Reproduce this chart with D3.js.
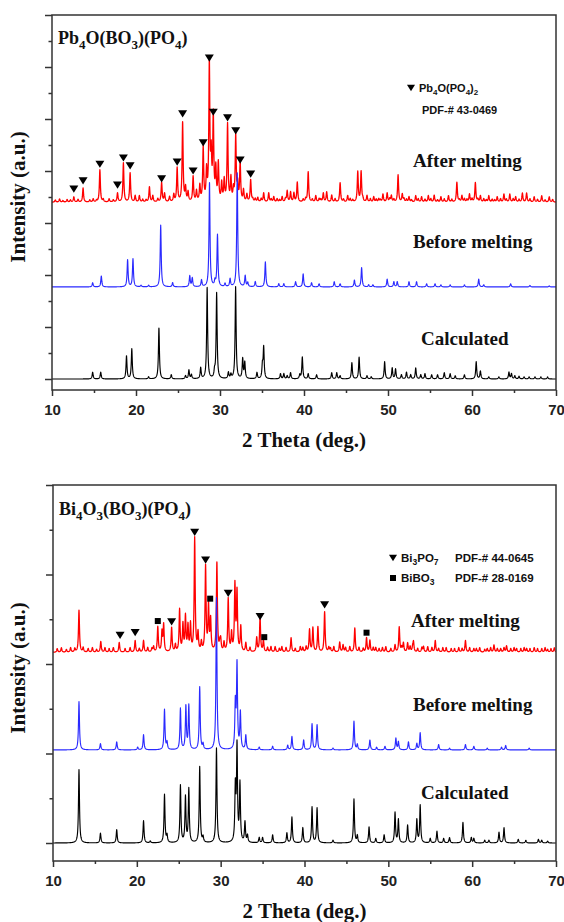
<!DOCTYPE html>
<html><head><meta charset="utf-8">
<script src="https://cdn.jsdelivr.net/npm/d3@7"></script>
<style>body{margin:0;background:#fff}</style>
</head><body>
<svg id="c" width="564" height="922"></svg>
<script>
// ---------------- data ----------------
const xTicks = [10, 20, 30, 40, 50, 60, 70];
const xMinorTicks = [15, 25, 35, 45, 55, 65];
const xLabel = "2 Theta (deg.)";
const yLabel = "Intensity (a.u.)";
const seriesNames = ["After melting", "Before melting", "Calculated"];
const seriesColors = ["#ff0000", "#2a2aff", "#000000"];

// Panel A: Pb4O(BO3)(PO4)  — peaks [2θ, intensity]
const yTicksA = [0, 100, 200, 300, 400, 500, 600, 700];
const yMinorA = [50, 150, 250, 350, 450, 550, 650];
const offsetsA = [340, 177, 0];
const afterA = [[12.6,10],[13.7,27],[15.7,62],[17.8,17],[18.5,75],[19.3,56],[19.9,12],[20.4,12],[21.6,29],[22.0,12],[23.05,37],[23.4,16],[24.0,10],[24.5,14],[24.9,65],[25.55,152],[25.9,26],[26.2,18],[26.8,48],[27.2,20],[27.6,30],[28.0,102],[28.4,56],[28.73,263],[28.95,80],[29.2,162],[29.5,60],[29.8,72],[30.2,34],[30.5,40],[30.9,148],[31.3,44],[31.6,22],[31.87,125],[32.1,30],[32.4,75],[32.8,22],[33.2,14],[33.65,42],[34.5,8],[35.2,17],[35.8,17],[36.4,10],[37.4,10],[38.0,21],[38.4,19],[38.8,17],[39.2,38],[40.5,58],[41.4,12],[42.3,17],[42.7,19],[43.3,13],[44.3,37],[45.2,12],[46.4,58],[46.8,58],[47.5,12],[48.3,10],[49.4,15],[49.9,17],[50.4,12],[51.2,52],[51.7,15],[52.5,10],[53.3,12],[54.0,10],[54.8,12],[55.5,13],[56.3,10],[57.2,12],[58.2,38],[58.8,12],[59.7,15],[60.4,37],[61.0,12],[62.0,12],[63.0,10],[63.8,15],[64.5,15],[65.2,10],[66.0,17],[66.5,17],[67.4,10],[68.3,12],[69.2,10]];
const noiseA = [[10.4,4],[10.9,6],[11.3,3],[11.8,5],[12.2,4],[13.1,5],[14.5,4],[14.9,6],[15.3,3],[16.1,5],[16.8,6],[17.3,4],[20.8,5],[21.2,4],[22.6,6],[33.9,5],[34.2,6],[34.9,6],[36.1,5],[36.8,6],[37.1,4],[37.8,6],[39.9,5],[40.2,6],[41.0,5],[41.8,6],[42.0,5],[43.7,6],[44.7,5],[45.5,6],[45.8,4],[47.0,5],[47.9,6],[48.6,5],[48.9,6],[49.1,4],[50.2,6],[50.7,5],[51.9,6],[52.2,5],[52.8,4],[53.6,6],[54.4,5],[55.1,6],[55.9,4],[56.7,6],[57.6,5],[58.5,4],[59.1,6],[59.4,5],[60.0,6],[60.7,5],[61.4,6],[61.7,4],[62.4,5],[62.7,4],[63.4,6],[64.1,5],[64.9,6],[65.6,5],[66.9,6],[67.8,5],[68.7,4],[69.6,5]];
const beforeA = [[14.84,8],[15.87,21],[19.0,52],[19.64,54],[20.6,3],[21.5,3],[22.94,119],[24.36,8],[26.4,21],[26.7,17],[27.8,13],[28.75,200],[29.4,10],[29.7,100],[30.6,6],[31.2,15],[32.05,219],[33.0,21],[33.3,8],[34.2,10],[35.4,48],[37.0,6],[37.6,6],[39.0,10],[39.9,25],[40.9,8],[41.8,6],[43.6,10],[44.3,6],[46.0,13],[46.86,37],[47.7,4],[48.2,4],[49.9,15],[50.7,10],[51.1,10],[52.5,10],[53.4,10],[54.6,6],[55.6,6],[56.3,4],[57.4,4],[59.1,4],[60.8,15],[61.4,4],[64.6,6],[66.9,3],[69.2,2]];
const calcA = [[14.84,13],[15.8,13],[18.87,44],[19.5,58],[21.5,4],[22.73,98],[24.2,8],[25.9,6],[26.3,17],[26.6,8],[27.7,21],[28.47,175],[29.35,12],[29.6,165],[31.0,12],[31.3,8],[31.86,177],[32.7,38],[32.95,31],[34.4,12],[35.05,25],[35.2,60],[37.2,10],[37.6,10],[38.0,6],[38.4,12],[39.5,8],[39.8,42],[40.5,10],[41.5,8],[43.3,12],[43.9,12],[44.3,6],[45.7,31],[46.56,42],[47.5,6],[48.0,4],[49.6,33],[50.5,21],[50.9,19],[51.6,8],[52.2,13],[52.7,8],[53.3,21],[53.9,8],[54.4,10],[55.2,8],[55.9,8],[56.7,12],[57.4,10],[58.0,6],[59.1,8],[60.5,33],[61.0,15],[62.0,4],[63.2,4],[64.4,13],[64.7,10],[65.1,6],[65.6,5],[66.2,4],[66.8,4],[67.5,4],[68.2,4],[69.0,4]];
const triA = [[12.6,365],[13.7,381],[15.7,413],[17.8,373],[18.5,425],[19.3,410],[23.05,385],[24.9,417],[25.55,510],[26.8,400],[28.0,454],[28.73,617],[29.2,513],[30.9,502],[31.87,477],[32.4,421],[33.65,394]];

// Panel B: Bi4O3(BO3)(PO4)
const yTicksB = [0, 100, 200, 300, 400];
const yMinorB = [50, 150, 250, 350];
const offsetsB = [213, 104, 0];
const afterB = [[13.1,47],[15.7,12],[17.9,11],[19.8,13],[20.8,13],[22.5,28],[23.0,22],[23.2,30],[24.15,27],[25.1,47],[25.5,30],[25.8,39],[26.1,28],[26.4,30],[26.9,127],[27.3,20],[28.2,95],[28.55,50],[28.8,35],[29.55,99],[30.0,12],[30.9,59],[31.3,20],[31.7,74],[31.95,66],[32.4,28],[33.0,10],[34.3,16],[34.7,38],[35.1,13],[36.0,6],[37.3,6],[38.4,16],[39.5,6],[40.6,25],[41.0,27],[41.6,28],[42.4,45],[43.5,6],[44.2,11],[44.6,8],[46.0,27],[47.4,16],[47.8,13],[48.5,5],[49.3,5],[50.8,8],[51.3,28],[51.8,10],[52.3,10],[53.0,11],[54.2,6],[55.6,13],[56.5,5],[57.5,4],[59.2,13],[60.5,4],[61.5,3],[62.6,8],[63.4,4],[64.1,7],[65.3,4],[66.5,4],[67.8,4],[69.0,3]];
const noiseB = [[10.5,4],[11.0,5],[11.6,3],[12.1,5],[12.6,4],[13.6,5],[14.2,4],[14.7,5],[15.2,3],[16.2,5],[16.7,4],[17.2,5],[18.6,4],[19.2,5],[20.3,4],[21.3,5],[21.8,4],[22.0,6],[24.6,8],[27.7,10],[29.9,8],[30.4,10],[33.5,5],[35.6,5],[36.5,6],[37.0,4],[37.8,5],[38.9,4],[39.8,5],[40.2,6],[42.9,5],[43.1,4],[44.9,5],[45.4,6],[46.5,5],[47.0,4],[48.2,5],[48.9,4],[49.7,6],[50.3,4],[51.6,5],[52.6,6],[52.9,5],[53.5,4],[54.0,5],[54.7,6],[55.2,5],[56.0,4],[56.9,5],[57.9,4],[58.4,5],[58.8,4],[59.7,5],[60.2,4],[60.9,5],[61.8,4],[62.2,5],[63.0,4],[63.8,5],[64.6,4],[65.0,5],[65.8,4],[66.2,5],[66.9,4],[67.4,5],[68.3,4],[68.7,5],[69.4,4],[69.8,5]];
const beforeB = [[13.1,54],[15.66,7],[17.6,9],[20.1,3],[20.8,17],[23.3,45],[23.6,8],[25.2,46],[25.85,48],[26.2,49],[27.5,70],[27.9,6],[29.5,170],[31.75,50],[31.95,94],[32.35,41],[33.0,16],[34.6,3],[36.2,4],[38.0,5],[38.5,15],[39.9,11],[40.9,29],[41.5,28],[43.4,2],[45.9,32],[46.3,6],[47.8,11],[48.6,3],[49.6,4],[50.9,13],[51.2,9],[52.4,9],[53.4,7],[53.8,19],[56.0,6],[57.3,2],[59.2,6],[60.2,4],[61.8,2],[63.5,3],[64.0,5],[66.8,2]];
const calcB = [[13.1,82],[15.66,11],[17.6,15],[20.8,25],[21.6,2],[23.3,54],[23.6,8],[25.2,64],[25.8,51],[26.2,60],[27.5,85],[27.9,6],[29.5,106],[31.75,60],[31.95,106],[32.3,65],[32.9,23],[33.2,8],[34.6,6],[35.0,6],[36.2,9],[37.9,11],[38.5,29],[39.8,17],[40.9,40],[41.5,39],[43.4,3],[45.9,49],[46.3,8],[47.7,18],[48.5,5],[49.5,9],[50.8,34],[51.2,26],[52.3,20],[53.4,26],[53.8,42],[55.0,5],[55.8,13],[56.6,5],[57.3,6],[58.9,23],[59.9,6],[60.2,5],[61.5,3],[62.0,3],[63.2,12],[63.8,17],[65.5,4],[66.4,3],[67.9,4],[68.3,3],[69.0,2]];
const triB = [[18.0,232],[19.8,235],[24.15,247],[26.9,347],[28.2,316],[30.9,279],[34.7,253],[42.4,266]];
const sqB = [[22.5,248],[28.75,273],[35.2,230],[47.4,235]];

// ---------------- drawing ----------------
const svg = d3.select("#c");
const SERIF = "'Liberation Serif','Times New Roman',serif";
const SANS = "'Liberation Sans',Arial,sans-serif";

function rich(g, x, y, parts, size, family, subSize, shift) {
  const t = g.append("text").attr("x", x).attr("y", y)
    .attr("font-family", family).attr("font-weight", "bold")
    .attr("font-size", size).attr("fill", "#111");
  let cur = 0;
  parts.forEach(([s, sub]) => {
    const want = sub ? shift : 0;
    t.append("tspan").attr("dy", want - cur).attr("font-size", sub ? subSize : size).text(s);
    cur = want;
  });
  return t;
}

function profile(peaks, w) {
  const xs = d3.range(10, 70.0001, 0.02).concat(peaks.map(p => p[0])).sort((a, b) => a - b);
  return xs.map(x => {
    let s = 0;
    for (const [p, h] of peaks) { const d = (x - p) / w; s += h / (1 + d * d); }
    return [x, s];
  });
}

function panel(cfg) {
  const g = svg.append("g");
  const x = d3.scaleLinear().domain([10, 70]).range([cfg.left, cfg.right]);
  const y = d3.scaleLinear().domain(cfg.yDomain).range([cfg.bottom, cfg.top]);
  const clipId = "clip" + cfg.id;
  svg.append("clipPath").attr("id", clipId).append("rect")
    .attr("x", cfg.left).attr("y", cfg.top).attr("width", cfg.right - cfg.left).attr("height", cfg.bottom - cfg.top);

  const line = d3.line().x(d => x(d[0])).y(d => y(d[1]));
  const lines = g.append("g").attr("clip-path", `url(#${clipId})`);
  cfg.series.forEach((s, i) => {
    const pts = profile(s, 0.07).map(d => [d[0], d[1] + cfg.offsets[i]]);
    lines.append("path").attr("d", line(pts)).attr("fill", "none")
      .attr("stroke", seriesColors[i]).attr("stroke-width", i === 0 ? 1.3 : 1.15)
      .attr("stroke-linejoin", "round");
  });

  // markers
  const tri = "M-4.5,-3.6L4.5,-3.6L0,3.6Z";
  g.selectAll(".tri" + cfg.id).data(cfg.tri).enter().append("path")
    .attr("d", tri).attr("fill", "#000")
    .attr("transform", d => `translate(${x(d[0])},${y(d[1])})`);
  if (cfg.sq) g.selectAll(".sq" + cfg.id).data(cfg.sq).enter().append("rect")
    .attr("x", d => x(d[0]) - 3).attr("y", d => y(d[1]) - 3).attr("width", 6).attr("height", 6).attr("fill", "#000");

  // frame
  g.append("rect").attr("x", cfg.left).attr("y", cfg.top)
    .attr("width", cfg.right - cfg.left).attr("height", cfg.bottom - cfg.top)
    .attr("fill", "none").attr("stroke", "#333").attr("stroke-width", 1.5);

  // axes
  const ax = g.append("g").attr("transform", `translate(0,${cfg.bottom})`)
    .call(d3.axisBottom(x).tickValues(xTicks).tickSize(6).tickSizeOuter(0).tickPadding(8).tickFormat(d3.format("d")));
  ax.select(".domain").remove();
  ax.selectAll("line").attr("stroke", "#333").attr("stroke-width", 1.5);
  ax.selectAll("text").attr("font-family", SANS).attr("font-weight", "bold").attr("font-size", 15).attr("fill", "#222");
  const axm = g.append("g").attr("transform", `translate(0,${cfg.bottom})`)
    .call(d3.axisBottom(x).tickValues(xMinorTicks).tickSize(3).tickSizeOuter(0).tickFormat(""));
  axm.select(".domain").remove();
  axm.selectAll("line").attr("stroke", "#333").attr("stroke-width", 1.5);

  const ay = g.append("g").attr("transform", `translate(${cfg.left},0)`)
    .call(d3.axisLeft(y).tickValues(cfg.yTicks).tickSize(7).tickSizeOuter(0).tickFormat(""));
  ay.select(".domain").remove();
  ay.selectAll("line").attr("stroke", "#333").attr("stroke-width", 1.5);
  const aym = g.append("g").attr("transform", `translate(${cfg.left},0)`)
    .call(d3.axisLeft(y).tickValues(cfg.yMinor).tickSize(3.5).tickSizeOuter(0).tickFormat(""));
  aym.select(".domain").remove();
  aym.selectAll("line").attr("stroke", "#333").attr("stroke-width", 1.5);

  // axis titles
  g.append("text").attr("x", (cfg.left + cfg.right) / 2).attr("y", cfg.xTitleY)
    .attr("text-anchor", "middle").attr("font-family", SERIF).attr("font-weight", "bold")
    .attr("font-size", 21).attr("fill", "#111").text(xLabel);
  g.append("text").attr("transform", `translate(25,${cfg.yTitleY}) rotate(-90)`)
    .attr("text-anchor", "middle").attr("font-family", SERIF).attr("font-weight", "bold")
    .attr("font-size", 21).attr("fill", "#111").text(yLabel);

  // compound title
  rich(g, cfg.left + 6, cfg.top + cfg.titleDy, cfg.title, 18, SERIF, 13, 5);

  // series labels
  cfg.labelPos.forEach((p, i) => {
    g.append("text").attr("x", p[0]).attr("y", p[1]).attr("font-family", SERIF)
      .attr("font-weight", "bold").attr("font-size", 19).attr("fill", "#111").text(seriesNames[i]);
  });
  cfg.legend(g);
}

panel({
  id: "A", left: 52, right: 556, top: 15, bottom: 390, yDomain: [-21.15, 700],
  yTicks: yTicksA, yMinor: yMinorA, offsets: offsetsA,
  series: [afterA.concat(noiseA), beforeA, calcA], tri: triA,
  xTitleY: 447, yTitleY: 197, titleDy: 29,
  title: [["Pb", 0], ["4", 1], ["O(BO", 0], ["3", 1], [")(PO", 0], ["4", 1], [")", 0]],
  labelPos: [[413, 167], [413, 248], [421, 345]],
  legend: g => {
    g.append("path").attr("d", "M-4,-3.2L4,-3.2L0,3.2Z").attr("transform", "translate(411,88)").attr("fill", "#000");
    rich(g, 419, 92, [["Pb", 0], ["4", 1], ["O(PO", 0], ["4", 1], [")", 0], ["2", 1]], 11, SANS, 8, 3);
    g.append("text").attr("x", 422).attr("y", 114).attr("font-family", SANS).attr("font-weight", "bold")
      .attr("font-size", 11).attr("fill", "#111").text("PDF-# 43-0469");
  }
});

panel({
  id: "B", left: 53, right: 556, top: 485, bottom: 861, yDomain: [-20.1, 400],
  yTicks: yTicksB, yMinor: yMinorB, offsets: offsetsB,
  series: [afterB.concat(noiseB), beforeB, calcB], tri: triB, sq: sqB,
  xTitleY: 918, yTitleY: 668, titleDy: 30,
  title: [["Bi", 0], ["4", 1], ["O", 0], ["3", 1], ["(BO", 0], ["3", 1], [")(PO", 0], ["4", 1], [")", 0]],
  labelPos: [[411, 627], [413, 711], [421, 799]],
  legend: g => {
    g.append("path").attr("d", "M-4,-3.2L4,-3.2L0,3.2Z").attr("transform", "translate(393,558)").attr("fill", "#000");
    rich(g, 401, 562, [["Bi", 0], ["3", 1], ["PO", 0], ["7", 1]], 11.5, SANS, 8.5, 3);
    g.append("text").attr("x", 455).attr("y", 562).attr("font-family", SANS).attr("font-weight", "bold")
      .attr("font-size", 11.5).attr("fill", "#111").text("PDF-# 44-0645");
    g.append("rect").attr("x", 390).attr("y", 575).attr("width", 6).attr("height", 6).attr("fill", "#000");
    rich(g, 401, 582, [["BiBO", 0], ["3", 1]], 11.5, SANS, 8.5, 3);
    g.append("text").attr("x", 455).attr("y", 582).attr("font-family", SANS).attr("font-weight", "bold")
      .attr("font-size", 11.5).attr("fill", "#111").text("PDF-# 28-0169");
  }
});
</script>
</body></html>
